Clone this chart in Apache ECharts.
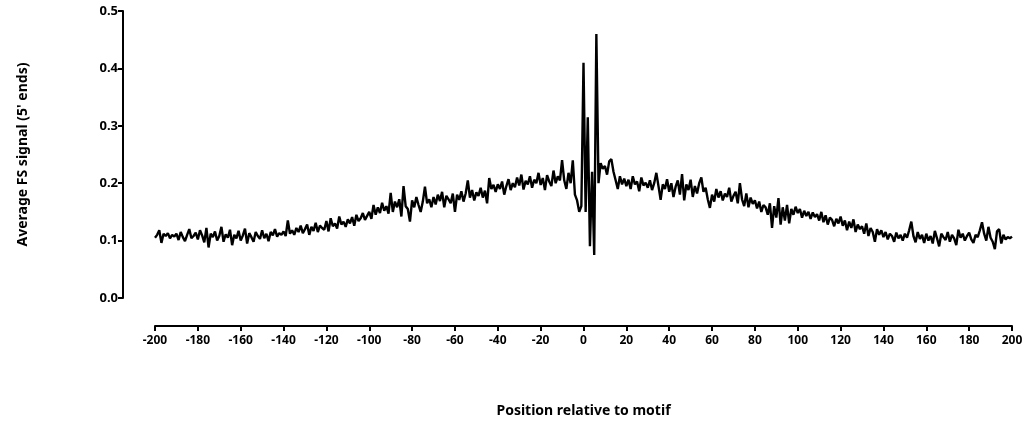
<!DOCTYPE html>
<html>
<head>
<meta charset="utf-8">
<script src="https://cdn.jsdelivr.net/npm/echarts@6/dist/echarts.min.js"></script>
<style>
  html, body { margin: 0; padding: 0; background: #fff; }
  #chart { width: 1030px; height: 425px; }
</style>
</head>
<body>
<div id="chart"></div>
<script>
// positions -200 .. 200, one value per position
var xStart = -200;
var xEnd = 200;
var xTicks = [-200, -180, -160, -140, -120, -100, -80, -60, -40, -20, 0, 20, 40, 60, 80, 100, 120, 140, 160, 180, 200];
var yTicks = [0.0, 0.1, 0.2, 0.3, 0.4, 0.5];

// average FS signal
var signal = [
    0.105, 0.110, 0.118, 0.096, 0.112, 0.108, 0.113, 0.104, 0.110, 0.107,
    0.112, 0.101, 0.115, 0.106, 0.099, 0.110, 0.120, 0.104, 0.108, 0.114,
    0.102, 0.118, 0.109, 0.097, 0.122, 0.088, 0.112, 0.106, 0.116, 0.100,
    0.108, 0.124, 0.098, 0.111, 0.105, 0.119, 0.092, 0.110, 0.104, 0.117,
    0.100, 0.109, 0.121, 0.095, 0.113, 0.106, 0.098, 0.115, 0.108, 0.103,
    0.118, 0.104, 0.112, 0.099, 0.115, 0.109, 0.120, 0.107, 0.113, 0.110,
    0.116, 0.108, 0.135, 0.112, 0.118, 0.110, 0.122, 0.115, 0.126, 0.113,
    0.120, 0.128, 0.110, 0.124, 0.117, 0.131, 0.115, 0.126, 0.122, 0.119,
    0.134, 0.116, 0.139, 0.125, 0.130, 0.121, 0.142, 0.128, 0.133, 0.124,
    0.137, 0.130, 0.141, 0.126, 0.145, 0.134, 0.139, 0.148, 0.136, 0.143,
    0.150, 0.138, 0.162, 0.145, 0.158, 0.148, 0.166, 0.152, 0.160, 0.147,
    0.183, 0.150, 0.168, 0.158, 0.172, 0.142, 0.195, 0.160, 0.155, 0.133,
    0.170, 0.158, 0.176, 0.162, 0.150, 0.168, 0.194, 0.165, 0.172, 0.158,
    0.176, 0.163, 0.180, 0.169, 0.185, 0.158, 0.178, 0.172, 0.165, 0.182,
    0.150, 0.180, 0.171, 0.186, 0.168, 0.182, 0.205, 0.175, 0.188, 0.170,
    0.184, 0.178, 0.192, 0.175, 0.187, 0.165, 0.209, 0.190, 0.197, 0.185,
    0.198, 0.190, 0.203, 0.180, 0.195, 0.207, 0.188, 0.200, 0.193, 0.210,
    0.196, 0.215, 0.189, 0.204, 0.198, 0.212, 0.192, 0.206, 0.200, 0.218,
    0.197, 0.209, 0.188, 0.214, 0.203, 0.195, 0.222, 0.200, 0.212, 0.205,
    0.240, 0.205, 0.190, 0.218, 0.200, 0.240, 0.180, 0.170, 0.150, 0.160,
    0.410, 0.150, 0.315, 0.090, 0.220, 0.075, 0.460, 0.200, 0.235, 0.225,
    0.230, 0.215, 0.238, 0.242, 0.220, 0.205, 0.190, 0.212, 0.198, 0.208,
    0.195, 0.206, 0.190, 0.212, 0.198, 0.203, 0.186, 0.210, 0.196, 0.201,
    0.192, 0.205, 0.188, 0.200, 0.218, 0.195, 0.171, 0.198, 0.190, 0.207,
    0.185, 0.200, 0.176, 0.194, 0.205, 0.180, 0.216, 0.170, 0.198, 0.188,
    0.206, 0.176, 0.195, 0.182, 0.200, 0.210, 0.185, 0.192, 0.172, 0.157,
    0.180, 0.168, 0.190, 0.175, 0.186, 0.170, 0.182, 0.176, 0.192, 0.168,
    0.178, 0.185, 0.165, 0.200, 0.172, 0.160, 0.182, 0.158, 0.175, 0.164,
    0.170, 0.156, 0.168, 0.150, 0.162, 0.158, 0.145, 0.165, 0.122, 0.160,
    0.140, 0.174, 0.128, 0.158, 0.135, 0.162, 0.130, 0.155, 0.145, 0.159,
    0.148, 0.155, 0.140, 0.152, 0.143, 0.150, 0.138, 0.149, 0.141, 0.146,
    0.135, 0.150, 0.132, 0.144, 0.128, 0.140, 0.136, 0.125, 0.138, 0.130,
    0.142, 0.126, 0.135, 0.118, 0.133, 0.122, 0.137, 0.115, 0.128, 0.120,
    0.125, 0.112, 0.130, 0.108, 0.122, 0.115, 0.098, 0.120, 0.110, 0.118,
    0.106, 0.115, 0.102, 0.112, 0.108, 0.098, 0.114, 0.104, 0.110, 0.100,
    0.112, 0.105, 0.118, 0.133, 0.108, 0.097, 0.115, 0.103, 0.110, 0.096,
    0.112, 0.100, 0.108, 0.095, 0.117, 0.104, 0.090, 0.112, 0.106, 0.101,
    0.115, 0.098, 0.110, 0.104, 0.092, 0.119, 0.105, 0.112, 0.100, 0.108,
    0.114, 0.102, 0.096, 0.110, 0.106, 0.118, 0.132, 0.112, 0.100, 0.124,
    0.105, 0.098, 0.085, 0.116, 0.120, 0.095, 0.110, 0.102, 0.106, 0.104, 0.107
];

var points = [];
for (var i = 0; i < signal.length; i++) {
    points.push([xStart + i, signal[i]]);
}

var font = 'Noto Sans';
var option = {
    animation: false,
    grid: {left: 155, right: 18, top: 11, bottom: 127},
    xAxis: {
        type: 'value',
        min: xStart,
        max: xEnd,
        interval: 20,
        offset: 28,
        name: 'Position relative to motif',
        nameLocation: 'middle',
        nameGap: 78,
        nameTextStyle: {color: '#000', fontFamily: font, fontWeight: 'bold', fontSize: 14},
        axisLine: {onZero: false, lineStyle: {color: '#000', width: 2}},
        axisTick: {length: 5, lineStyle: {color: '#000', width: 2}},
        axisLabel: {color: '#000', fontFamily: font, fontWeight: 'bold', fontSize: 12, margin: 9},
        splitLine: {show: false}
    },
    yAxis: {
        type: 'value',
        min: 0,
        max: 0.5,
        interval: 0.1,
        offset: 32,
        name: "Average FS signal (5' ends)",
        nameLocation: 'middle',
        nameGap: 93,
        nameTextStyle: {color: '#000', fontFamily: font, fontWeight: 'bold', fontSize: 14},
        axisLine: {show: true, onZero: false, lineStyle: {color: '#000', width: 2}},
        axisTick: {show: true, length: 5, lineStyle: {color: '#000', width: 2}},
        axisLabel: {
            color: '#000', fontFamily: font, fontWeight: 'bold', fontSize: 13, margin: 5,
            formatter: function (v) { return v.toFixed(1); }
        },
        splitLine: {show: false}
    },
    series: [{
        type: 'line',
        data: points,
        showSymbol: false,
        lineStyle: {color: '#000', width: 2.4},
        itemStyle: {color: '#000'}
    }]
};

var myChart = echarts.init(document.getElementById('chart'));
myChart.setOption(option);
</script>
</body>
</html>
